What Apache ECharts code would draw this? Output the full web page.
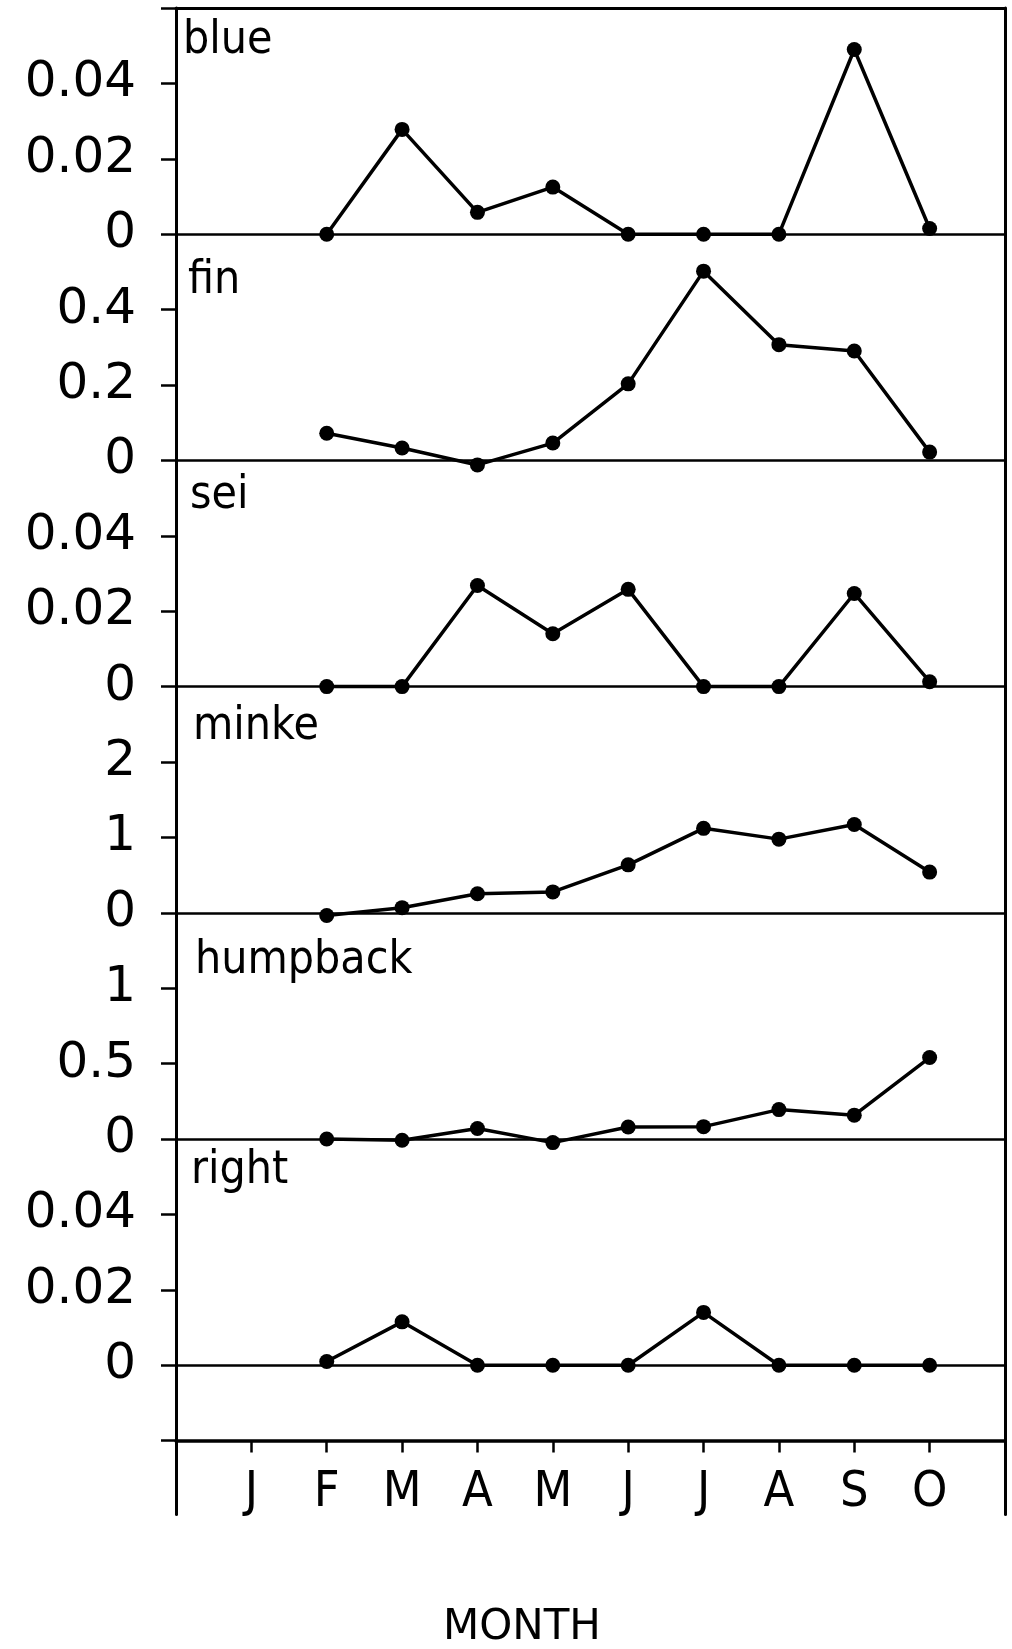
<!DOCTYPE html>
<html><head><meta charset="utf-8">
<script src="https://cdn.jsdelivr.net/npm/echarts@6/dist/echarts.min.js"></script>
<style>html,body{margin:0;padding:0;background:#fff}#c{width:1012px;height:1649px}</style>
</head><body><div id="c"></div>
<script>
// ---- data ----
const months = ['J','F','M','A','M','J','J','A','S','O'];   // x = 1..10
const species = ['blue','fin','sei','minke','humpback','right'];
const blue     = [null, 0, 0.0278, 0.0058, 0.0125, 0, 0, 0, 0.049, 0.0015];
const fin      = [null, 0.072, 0.033, -0.012, 0.046, 0.203, 0.502, 0.307, 0.29, 0.022];
const sei      = [null, 0, 0, 0.0268, 0.014, 0.0258, 0, 0, 0.0247, 0.0013];
const minke    = [null, -0.035, 0.068, 0.252, 0.277, 0.636, 1.12, 0.977, 1.172, 0.54];
const humpback = [null, 0, -0.008, 0.07, -0.024, 0.08, 0.082, 0.195, 0.158, 0.54];
const right    = [null, 0.001, 0.0115, 0, 0, 0, 0.014, 0, 0, 0];
const blueTicks     = ['0','0.02','0.04'];
const finTicks      = ['0','0.2','0.4'];
const seiTicks      = ['0','0.02','0.04'];
const minkeTicks    = ['0','1','2'];
const humpbackTicks = ['0','0.5','1'];
const rightTicks    = ['0','0.02','0.04'];
const xTitle = 'MONTH';

// ---- layout ----
const seriesData = [blue, fin, sei, minke, humpback, right];
const tickLabels = [blueTicks, finTicks, seiTicks, minkeTicks, humpbackTicks, rightTicks];
const yMin  = [0, 0, 0, 0, 0, -0.02];
const yMax  = [0.06, 0.6, 0.06, 3, 1.5, 0.06];
const yStep = [0.02, 0.2, 0.02, 1, 0.5, 0.02];
const TOP = 8, UNIT = 75.4, LEFT = 176, RIGHT = 7;
const PANEL_H = 3 * UNIT;
const labelPos = [[183,18],[188,258],[190,473],[193,704],[195,938],[191,1148]];
const FONT = '"DejaVu Sans Condensed","Liberation Sans Narrow","DejaVu Sans",sans-serif';

const grid = [], xAxis = [], yAxis = [], series = [], title = [];
species.forEach((name, i) => {
  const h = i === 5 ? PANEL_H + UNIT : PANEL_H;
  grid.push({left: LEFT, right: RIGHT, top: TOP + i * PANEL_H, height: h});
  xAxis.push({type: 'value', gridIndex: i, min: 0, max: 11, interval: 1,
    axisLine: {show: true, onZero: true, lineStyle: {color: '#000', width: 2.5}},
    axisTick: {show: false}, axisLabel: {show: false}, splitLine: {show: false}});
  yAxis.push({type: 'value', gridIndex: i, min: yMin[i], max: yMax[i], interval: yStep[i],
    axisLine: {show: false},
    axisTick: {show: true, inside: false, length: 15, lineStyle: {color: '#000', width: 2.5}},
    axisLabel: {show: true, margin: 40, color: '#000', fontSize: 50, fontFamily: '"DejaVu Sans",sans-serif',
      formatter: v => { const k = Math.round(v / yStep[i]); const s = tickLabels[i][k]; return s === undefined ? '' : s; }},
    splitLine: {show: false}});
  series.push({type: 'line', xAxisIndex: i, yAxisIndex: i, clip: false,
    data: seriesData[i].map((v, j) => [j + 1, v]).filter(d => d[1] !== null),
    symbol: 'circle', symbolSize: 15, showSymbol: true,
    lineStyle: {color: '#000', width: 3.5}, itemStyle: {color: '#000'}, z: 5,
    animation: false});
  title.push({text: name, left: labelPos[i][0], top: labelPos[i][1], padding: 0,
    textStyle: {fontSize: 46, fontWeight: 'normal', color: '#000', fontFamily: FONT}});
});
// frame grid: bottom month axis
grid.push({left: LEFT, right: RIGHT, top: TOP, height: 19 * UNIT});
xAxis.push({type: 'value', gridIndex: 6, min: 0, max: 11, interval: 1, position: 'bottom',
  axisLine: {show: true, onZero: false, lineStyle: {color: '#000', width: 3.5}},
  axisTick: {show: true, inside: false, length: 12, lineStyle: {color: '#000', width: 2.5}},
  axisLabel: {show: true, margin: 27, color: '#000', fontSize: 50, fontFamily: FONT,
    formatter: v => months[Math.round(v) - 1] || ''},
  splitLine: {show: false}});
yAxis.push({type: 'value', gridIndex: 6, min: 0, max: 1, show: false});
// border grid: top line and vertical sides extending below axis
grid.push({left: LEFT, right: RIGHT, top: TOP, height: 19 * UNIT + 74});
xAxis.push({type: 'value', gridIndex: 7, min: 0, max: 11, position: 'top',
  axisLine: {show: true, onZero: false, lineStyle: {color: '#000', width: 3}},
  axisTick: {show: false}, axisLabel: {show: false}, splitLine: {show: false}});
yAxis.push({type: 'value', gridIndex: 7, min: 0, max: 1, position: 'left',
  axisLine: {show: true, onZero: false, lineStyle: {color: '#000', width: 3}},
  axisTick: {show: false}, axisLabel: {show: false}, splitLine: {show: false}});
yAxis.push({type: 'value', gridIndex: 7, min: 0, max: 1, position: 'right',
  axisLine: {show: true, onZero: false, lineStyle: {color: '#000', width: 3}},
  axisTick: {show: false}, axisLabel: {show: false}, splitLine: {show: false}});
title.push({text: xTitle, left: 443, top: 1607, padding: 0,
  textStyle: {fontSize: 42, fontWeight: 'normal', color: '#000', fontFamily: '"DejaVu Sans",sans-serif'}});

const chart = echarts.init(document.getElementById('c'), null, {renderer: 'canvas'});
chart.setOption({backgroundColor: '#fff', animation: false, title, grid, xAxis, yAxis, series});
</script>
</body></html>
